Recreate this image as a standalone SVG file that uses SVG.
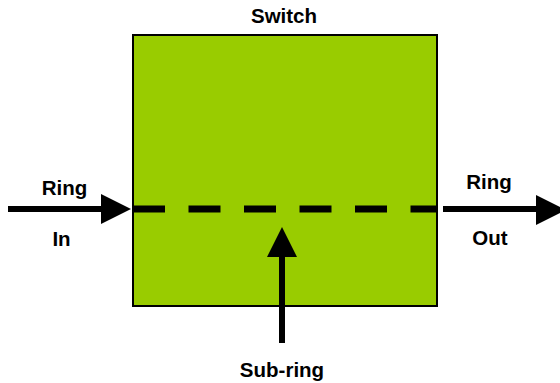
<svg xmlns="http://www.w3.org/2000/svg" width="560" height="383" viewBox="0 0 560 383">
<style>
.lbl{font-family:"Liberation Sans",Arial,sans-serif;font-weight:bold;font-size:20.5px;fill:#000;text-anchor:middle}
.ln{stroke:#000;stroke-width:6;fill:none}
.hd{fill:#000}
</style>
<rect width="560" height="383" fill="#fff"/>
<g id="switch">
<rect x="133" y="35" width="304" height="271" fill="#99CC00" stroke="#000" stroke-width="2"/>
<text class="lbl" x="284" y="23">Switch</text>
</g>
<g id="connectors">
<line x1="133" y1="209" x2="437" y2="209" stroke="#000" stroke-width="7" stroke-dasharray="32 23.5"/>
<line class="ln" x1="8" y1="209" x2="102" y2="209"/>
<polygon class="hd" points="101,194 131,209 101,224"/>
<line class="ln" x1="443" y1="209" x2="538" y2="209"/>
<polygon class="hd" points="536,195 566,210 536,225"/>
<line class="ln" x1="282" y1="343" x2="282" y2="254"/>
<polygon class="hd" points="267,257 282,227 297,257"/>
</g>
<g id="labels">
<text class="lbl" x="64.5" y="195">Ring</text>
<text class="lbl" x="61.5" y="246">In</text>
<text class="lbl" x="489" y="189">Ring</text>
<text class="lbl" x="490" y="245">Out</text>
<text class="lbl" x="282" y="377">Sub-ring</text>
</g>
</svg>
